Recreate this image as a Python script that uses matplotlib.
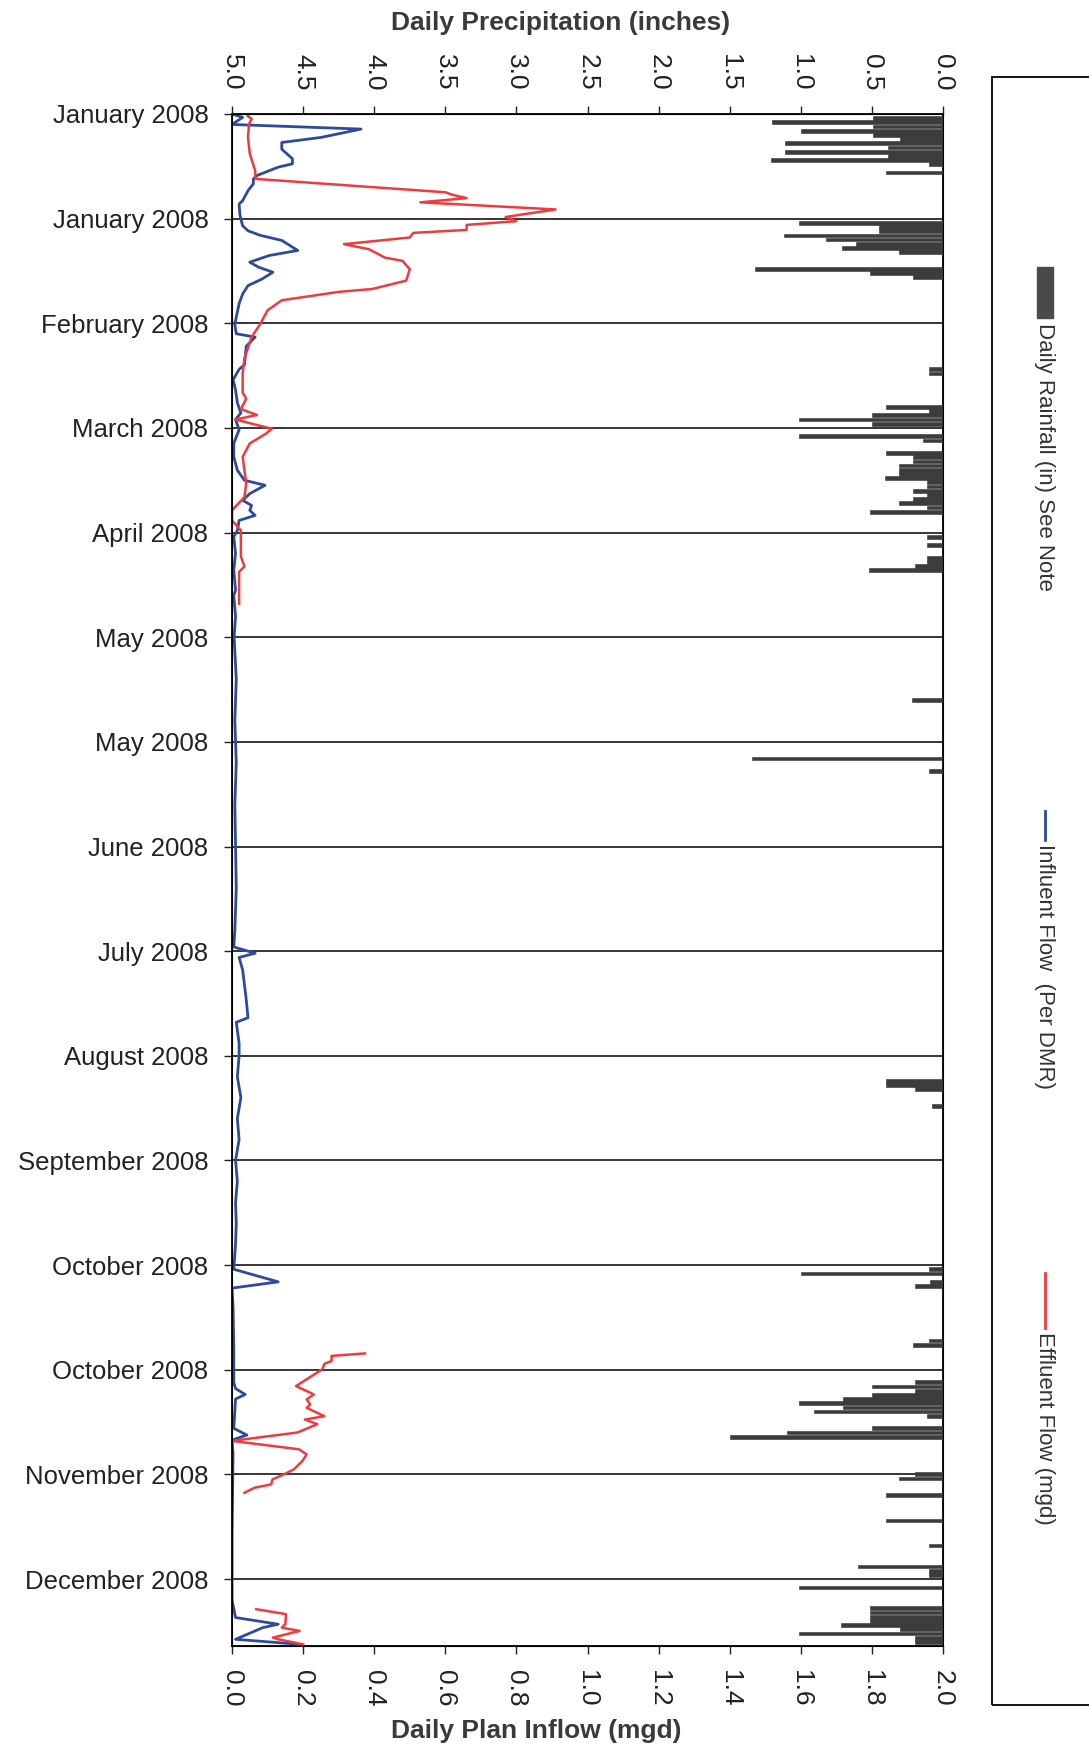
"""
Lluvia diaria y caudales de la planta, 2008 (grafico girado)
"""

import matplotlib.pyplot as plt
from matplotlib.patches import Rectangle
from matplotlib.lines import Line2D
import numpy as np

plt.rcParams['font.family'] = ['Liberation Sans', 'DejaVu Sans']

# dias contados desde el 1 de enero de 2008
date_ticks = list(range(0, 351, 25))
date_labels = ['January 2008', 'January 2008', 'February 2008', 'March 2008', 'April 2008',
               'May 2008', 'May 2008', 'June 2008', 'July 2008', 'August 2008',
               'September 2008', 'October 2008', 'October 2008', 'November 2008',
               'December 2008']

flow_ticks = [0.0, 0.2, 0.4, 0.6, 0.8, 1.0, 1.2, 1.4, 1.6, 1.8, 2.0]
rain_ticks = [0.0, 0.5, 1.0, 1.5, 2.0, 2.5, 3.0, 3.5, 4.0, 4.5, 5.0]

# lluvia diaria (pulgadas)
rain_days = [1, 2, 3, 4, 5, 6, 7, 8, 9, 10, 11, 12, 14,
             26, 27, 28, 29, 30, 31, 32, 33, 37, 38, 39,
             61, 62, 70, 71, 72, 73, 74, 77, 78, 81, 82, 83, 84, 85, 86, 87, 88, 89,
             90, 91, 92, 93, 94, 95, 101, 103, 106, 107, 108, 109,
             140, 154, 157,
             231, 232, 233, 237,
             276, 277, 279, 280, 293, 294,
             303, 304, 305, 306, 307, 308, 309, 310, 311, 314, 315, 316,
             325, 326, 330, 336, 342, 347, 348, 349,
             352, 357, 358, 359, 360, 361, 362, 363, 364, 365]
rain_in = [0.49, 1.20, 0.49, 1.00, 0.49, 0.30, 1.11, 0.39, 1.11, 0.39, 1.21, 0.10, 0.40,
           1.01, 0.45, 0.45, 1.12, 0.82, 0.61, 0.71, 0.31, 1.32, 0.51, 0.21,
           0.10, 0.10, 0.40, 0.10, 0.50, 1.01, 0.50, 1.01, 0.14, 0.40, 0.21, 0.21, 0.31, 0.31,
           0.31, 0.41, 0.11, 0.11,
           0.21, 0.11, 0.21, 0.31, 0.11, 0.51, 0.11, 0.11, 0.11, 0.11, 0.20, 0.52,
           0.22, 1.34, 0.10,
           0.40, 0.40, 0.20, 0.08,
           0.10, 1.00, 0.09, 0.20, 0.10, 0.21,
           0.20, 0.50, 0.20, 0.50, 0.70, 1.01, 0.70, 0.91, 0.11, 0.50, 1.10, 1.50,
           0.20, 0.31, 0.40, 0.40, 0.10, 0.60, 0.10, 0.10,
           1.01, 0.51, 0.51, 0.51, 0.51, 0.72, 0.30, 1.01, 0.20, 0.20]

# caudal de entrada (mgd)
inf_days = [0, 0.8, 2.5, 3.6, 5.6, 6.8, 8.4, 10.7, 11.9, 12.7, 14.7, 15.5, 16.7, 18.3,
            20.7, 21.5, 23.9, 25.1, 26.7, 27.9, 29, 30.2, 32.6, 33.8, 35.4, 36.6, 37.8,
            39.4, 41, 43, 45.3, 48.5, 50.3, 52.5, 53.3, 55.5, 59.9, 61, 63.5, 65.9, 69,
            71.4, 73, 75.4, 78.7, 81.9, 85.1, 87.5, 88.7, 90.7, 92.3, 93.5, 94.7, 95.9,
            97.1, 99.5, 101, 105, 109, 113.8, 115, 120, 125, 135, 145, 155, 165, 175,
            185, 195, 199, 200.5, 201.5, 204.5, 211.5, 215.9, 217, 222, 225, 230, 235,
            240, 245, 250, 255, 260, 265, 270, 276, 279, 280.5, 285, 295, 303, 304.5,
            305.9, 307, 314, 315.6, 316.8, 320, 340, 355, 359.2, 360.8, 361.6, 364.4,
            365.6]
inf_mgd = [0.00, 0.03, 0.00, 0.363, 0.25, 0.14, 0.14, 0.17, 0.17, 0.13, 0.07, 0.06, 0.06,
           0.045, 0.03, 0.02, 0.022, 0.025, 0.03, 0.045, 0.08, 0.14, 0.185, 0.105, 0.05,
           0.075, 0.115, 0.085, 0.045, 0.03, 0.02, 0.012, 0.008, 0.012, 0.065, 0.04, 0.035,
           0.02, 0.003, 0.01, 0.015, 0.025, 0.01, 0.02, 0.005, 0.005, 0.015, 0.035, 0.093,
           0.05, 0.03, 0.055, 0.05, 0.065, 0.02, 0.015, 0.005, 0.01, 0.005, 0.01, 0.005,
           0.01, 0.006, 0.012, 0.008, 0.012, 0.008, 0.01, 0.012, 0.008, 0.005, 0.065,
           0.02, 0.03, 0.04, 0.045, 0.012, 0.02, 0.02, 0.015, 0.025, 0.015, 0.02, 0.01,
           0.015, 0.01, 0.012, 0.01, 0.005, 0.13, 0.0, 0.003, 0.005, 0.005, 0.01, 0.037,
           0.01, 0.005, 0.042, 0.0, 0.003, 0.0, 0.0, 0.01, 0.13, 0.087, 0.01, 0.19]

# caudal de salida (mgd), con huecos sin dato
eff_days = [0.4, 1.2, 2.4, 5.6, 9.5, 13.5, 15.5, 18.7, 19.3, 20.1, 21.1, 22.8, 24.6, 25.6,
            26.5, 27.7, 28.4, 29.5, 31.1, 32.3, 34.3, 35.1, 37.1, 39.8, 41.8, 42.5, 44.5,
            46.9, 50.1, 53.3, 58.4, 62, 66.6, 68, 70.5, 71.9, 73, 75.2, 76.4, 78.7, 81.9,
            85.1, 88.3, 91.5, 94.7, 97.1, 99.5, 105.7, 108.1, 109.4, 117,
            200,
            296.1, 296.7, 297.9, 298.6, 299.9, 303.9, 305.9, 307.1, 308.3, 309.1, 311.1,
            311.9, 313, 315, 317, 319, 320.2, 321.8, 323.8, 325, 326.2, 327.4, 328.2, 329.4,
            340,
            357.2, 358.4, 360.8, 361.6, 362.4, 364, 364.4, 365.6]
eff_mgd = [0.044, 0.055, 0.048, 0.045, 0.05, 0.065, 0.066, 0.60, 0.62, 0.66, 0.53, 0.91,
           0.77, 0.80, 0.66, 0.66, 0.51, 0.50, 0.315, 0.385, 0.43, 0.48, 0.50, 0.49, 0.395,
           0.30, 0.14, 0.10, 0.08, 0.055, 0.035, 0.03, 0.03, 0.04, 0.025, 0.07, 0.01,
           0.112, 0.095, 0.05, 0.03, 0.035, 0.04, 0.035, 0.0, 0.0, 0.025, 0.025, 0.035,
           0.02, 0.02,
           np.nan,
           0.374, 0.28, 0.28, 0.26, 0.254, 0.18, 0.23, 0.21, 0.22, 0.21, 0.26, 0.205, 0.24,
           0.184, 0.0, 0.188, 0.21, 0.198, 0.174, 0.146, 0.114, 0.11, 0.063, 0.035,
           np.nan,
           0.068, 0.152, 0.15, 0.14, 0.19, 0.115, 0.13, 0.20]

W, H = 1089, 1747
fig = plt.figure(figsize=(W / 100, H / 100), dpi=100)
ax = fig.add_axes([232 / W, (H - 1646) / H, 711 / W, (1646 - 114) / H])

# caudales (eje inferior)
ax.plot(inf_mgd, inf_days, color='#2e4a9e', lw=2.0, zorder=3)
ax.plot(eff_mgd, eff_days, color='#ef3b3b', lw=1.8, zorder=3)
ax.set_xlim(0, 2.0)
ax.set_ylim(366, 0)
ax.set_xticks(flow_ticks)
ax.set_xticklabels(['%.1f' % v for v in flow_ticks], rotation=-90)
ax.set_yticks(date_ticks)
ax.set_yticklabels(date_labels)
ax.yaxis.grid(True, color='black', lw=1.1)
ax.set_axisbelow(True)
ax.tick_params(axis='x', direction='out', length=6, width=1, pad=11, labelsize=19,
               colors='#222222')
ax.tick_params(axis='y', direction='out', length=6, width=1, pad=11, labelsize=18.5,
               colors='#222222')
for s in ax.spines.values():
    s.set_linewidth(1.3)

# lluvia (eje superior invertido)
ax2 = ax.twiny()
ax2.barh(rain_days, rain_in, height=0.9, color='#3c3c3c', edgecolor='#333333', lw=0.4)
ax2.set_xlim(5.0, 0.0)
ax2.set_xticks(rain_ticks)
ax2.set_xticklabels(['%.1f' % v for v in rain_ticks], rotation=-90)
ax2.tick_params(axis='x', direction='out', length=6, width=1, pad=11, labelsize=19,
                colors='#222222')

fig.text(561 / W, 1 - 23 / H, 'Daily Precipitation (inches)', ha='center', va='center',
         fontsize=19, fontweight='bold', color='#3a3a3a')
fig.text(536 / W, 1 - 1731 / H, 'Daily Plan Inflow (mgd)', ha='center', va='center',
         fontsize=19, fontweight='bold', color='#3a3a3a')

# leyenda girada
fig.add_artist(Rectangle((992 / W, 1 - 1705 / H), 120 / W, (1705 - 77) / H,
                         transform=fig.transFigure, fill=False, ec='black', lw=1.3))
fig.add_artist(Rectangle((1037 / W, 1 - 318 / H), 16 / W, 51 / H,
                         transform=fig.transFigure, color='#4a4a4a'))
fig.add_artist(Line2D([1045 / W, 1045 / W], [1 - 811 / H, 1 - 840 / H],
                      transform=fig.transFigure, color='#2e4a9e', lw=2))
fig.add_artist(Line2D([1045 / W, 1045 / W], [1 - 1273 / H, 1 - 1328 / H],
                      transform=fig.transFigure, color='#ef3b3b', lw=2))
leg_txt = [('Daily Rainfall (in) See Note', 323),
           ('Influent Flow  (Per DMR)', 844),
           ('Effluent Flow (mgd)', 1332)]
for txt, ytop in leg_txt:
    fig.text(1045 / W, 1 - ytop / H, txt, rotation=-90, ha='center', va='top',
             fontsize=16, color='#333333')

fig.savefig('out.png', dpi=100)
